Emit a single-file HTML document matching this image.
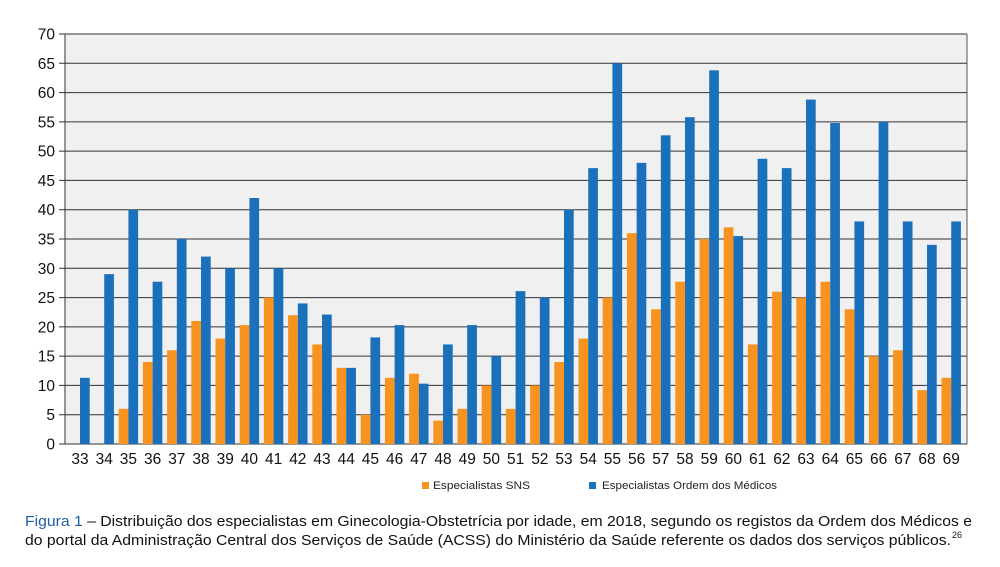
<!DOCTYPE html>
<html><head><meta charset="utf-8"><style>
html,body{margin:0;padding:0;background:#fff;}
svg{display:block;font-family:"Liberation Sans",sans-serif;}
</style></head><body>
<svg id="c" width="1000" height="567" viewBox="0 0 1000 567" xmlns="http://www.w3.org/2000/svg">
<rect x="65" y="34" width="902" height="410" fill="#f0f0f0"/>
<g id="grid"></g>
<g id="bars"></g>
<g id="labels" font-size="15.5" fill="#111"></g>
<rect x="422" y="482" width="7" height="7" fill="#f7931e"/>
<text x="433" y="489" font-size="11" fill="#222" textLength="97" lengthAdjust="spacingAndGlyphs">Especialistas SNS</text>
<rect x="589" y="482" width="7" height="7" fill="#1a70bb"/>
<text x="602" y="489" font-size="11" fill="#222" textLength="175" lengthAdjust="spacingAndGlyphs">Especialistas Ordem dos Médicos</text>
<text x="25" y="526" font-size="14.5" fill="#111" textLength="947" lengthAdjust="spacingAndGlyphs"><tspan fill="#1f5fa8">Figura 1</tspan> – Distribuição dos especialistas em Ginecologia-Obstetrícia por idade, em 2018, segundo os registos da Ordem dos Médicos e</text>
<text x="25" y="545" font-size="14.5" fill="#111" textLength="926" lengthAdjust="spacingAndGlyphs">do portal da Administração Central dos Serviços de Saúde (ACSS) do Ministério da Saúde referente os dados dos serviços públicos.</text>
<text x="952" y="538" font-size="9" fill="#111">26</text>
</svg>
<script>
var NS="http://www.w3.org/2000/svg";
function el(p,t,a,txt){var e=document.createElementNS(NS,t);for(var k in a)e.setAttribute(k,a[k]);if(txt!=null)e.textContent=txt;document.getElementById(p).appendChild(e);}
var L=65,R=967,T=34,B=444,H=B-T;
function y(v){return B-v/70*H;}
for(var v=0;v<=70;v+=5){var yy=y(v);
el("grid","line",{x1:59,x2:R,y1:yy,y2:yy,stroke:"#333","stroke-width":1});
el("labels","text",{x:55,y:yy+5.5,"text-anchor":"end"},v);}
el("grid","line",{x1:L,x2:L,y1:T,y2:B,stroke:"#333","stroke-width":1});
el("grid","line",{x1:R,x2:R,y1:T,y2:B,stroke:"#555","stroke-width":1});
var s=[0,0,6,14,16,21,18,20.3,25,22,17,13,5,11.3,12,4,6,10,6,10,14,18,25,36,23,27.7,35,37,17,26,25,27.7,23,15,16,9.2,11.3];
var b=[11.3,29,40,27.7,35,32,30,42,30,24,22.1,13,18.2,20.3,10.3,17,20.3,15,26.1,25,40,47.1,65,48,52.7,55.8,63.8,35.5,48.7,47.1,58.8,54.8,38,55,38,34,38];
var w=24.2,L0=65.5,bw=9.7;
for(var i=0;i<37;i++){var x0=L0+i*w;
if(s[i]>0)el("bars","rect",{x:x0+0.6*w-bw,y:y(s[i]),width:bw,height:B-y(s[i]),fill:"#f7931e"});
el("bars","rect",{x:x0+0.6*w,y:y(b[i]),width:bw,height:B-y(b[i]),fill:"#1a70bb"});
el("labels","text",{x:x0+0.6*w,y:464,"text-anchor":"middle"},33+i);}
</script>
</body></html>
